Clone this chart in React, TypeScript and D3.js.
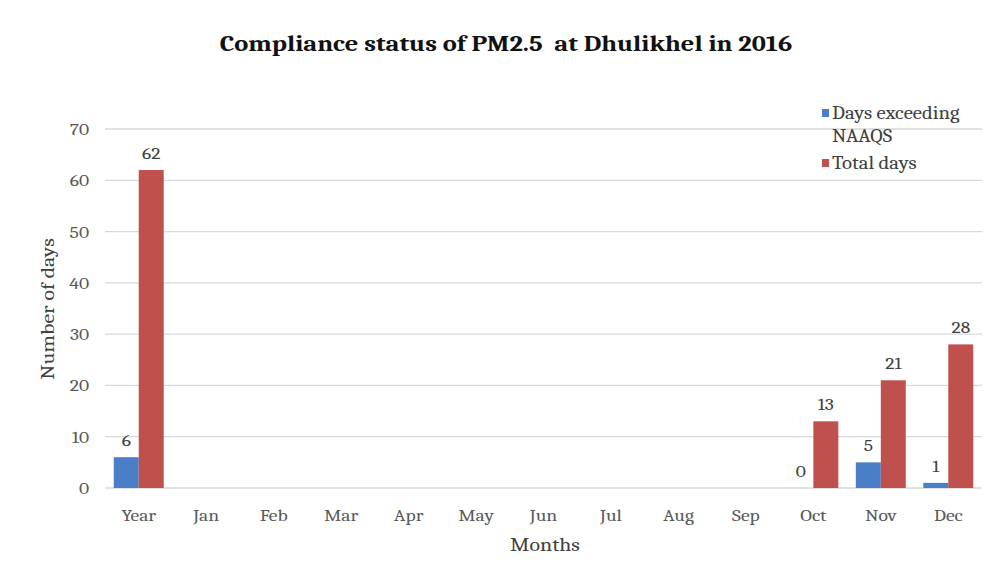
import { useEffect, useRef } from 'react';
import * as d3 from 'd3';

const categories = ['Year', 'Jan', 'Feb', 'Mar', 'Apr', 'May', 'Jun', 'Jul', 'Aug', 'Sep', 'Oct', 'Nov', 'Dec'];
const exceedingDays: (number | null)[] = [6, null, null, null, null, null, null, null, null, null, 0, 5, 1];
const totalDays: (number | null)[] = [62, null, null, null, null, null, null, null, null, null, 13, 21, 28];
const yTicks = [0, 10, 20, 30, 40, 50, 60, 70];
const legendLines = [['Days exceeding', 'NAAQS'], ['Total days']];
const colors = ['#4a7ec6', '#c0504d'];

const W = 993;
const H = 575;
const FONT = 'Cambria, Caladea, "Liberation Serif", "DejaVu Serif", serif';
// the source text is a little wider than the installed font
const SX = 1.15;

export default function App() {
  const svgRef = useRef<SVGSVGElement>(null);

  useEffect(() => {
    if (!svgRef.current) return;
    const svg = d3.select(svgRef.current);
    svg.selectAll('*').remove();

    const left = 105;
    const right = 982;
    const top = 129;
    const bottom = 488;

    const label = (px: number, py: number, txt: string | number, size: number, anchor = 'middle', fill = '#404040', rot = 0) =>
      svg.append('text')
        .attr('transform', `translate(${px},${py}) rotate(${rot}) scale(${SX},1)`)
        .attr('text-anchor', anchor)
        .attr('font-family', FONT)
        .attr('font-size', size)
        .attr('fill', fill)
        .style('white-space', 'pre')
        .text(txt);

    // chart frame
    svg.append('rect')
      .attr('x', 7.5).attr('y', 7.5)
      .attr('width', W - 11).attr('height', H - 12)
      .attr('fill', '#fff')
      .attr('stroke', '#c8c8c8');

    label(506, 51, 'Compliance status of PM2.5  at Dhulikhel in 2016', 23, 'middle', '#111')
      .attr('font-weight', 'bold');

    const x = d3.scaleBand().domain(categories).range([left, right]);
    const y = d3.scaleLinear().domain([0, 70]).range([bottom, top]);
    const inner = d3.scaleBand().domain(['0', '1']).range([0, x.bandwidth()]).paddingOuter(0.35);

    // gridlines
    svg.append('g').selectAll('line').data(yTicks).join('line')
      .attr('x1', left).attr('x2', right)
      .attr('y1', d => y(d)).attr('y2', d => y(d))
      .attr('stroke', '#d9d9d9').attr('stroke-width', 1.3);

    yTicks.forEach(t => label(89, y(t) + 6, t, 17, 'end', '#595959'));
    categories.forEach(c => label((x(c) as number) + x.bandwidth() / 2, 521, c, 17, 'middle', '#595959'));

    const series = [exceedingDays, totalDays];
    series.forEach((vals, si) => {
      const g = svg.append('g');
      const pts = categories.map((c, i) => ({ c, v: vals[i] })).filter(p => p.v !== null) as { c: string; v: number }[];
      g.selectAll('rect').data(pts).join('rect')
        .attr('x', d => (x(d.c) as number) + (inner(String(si)) as number))
        .attr('width', inner.bandwidth())
        .attr('y', d => y(d.v))
        .attr('height', d => y(0) - y(d.v))
        .attr('fill', colors[si]);
      pts.forEach(d => {
        const cx = (x(d.c) as number) + (inner(String(si)) as number) + inner.bandwidth() / 2;
        label(cx, y(d.v) - 11, d.v, 17, 'middle', '#404040');
      });
    });

    // axis titles
    label(54, 309, 'Number of days', 19, 'middle', '#404040', -90);
    label(545, 551, 'Months', 19, 'middle', '#404040');

    // legend
    legendLines.forEach((lines, i) => {
      const ly = 119 + i * 50;
      svg.append('rect').attr('x', 822).attr('y', ly - 10).attr('width', 7).attr('height', 8).attr('fill', colors[i]);
      lines.forEach((t, j) => label(832, ly + j * 23, t, 18, 'start', '#404040'));
    });
  }, []);

  return (
    <div style={{ margin: -8 }}>
      <svg ref={svgRef} width={W} height={H} viewBox={`0 0 ${W} ${H}`} style={{ display: 'block' }} />
    </div>
  );
}
